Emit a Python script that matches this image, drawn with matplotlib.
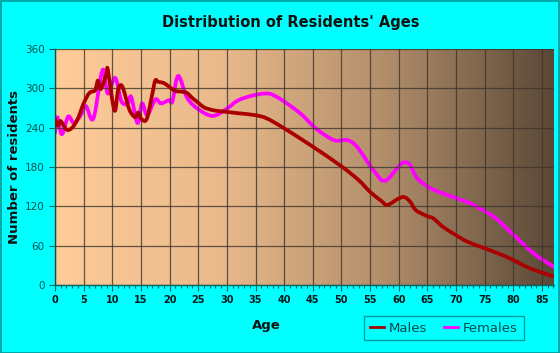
import numpy as np
import matplotlib.pyplot as plt
from matplotlib.colors import LinearSegmentedColormap
from matplotlib.patches import Rectangle, PathPatch
from matplotlib.path import Path

plt.rcParams['font.family'] = ['DejaVu Sans']

# values
male_age = [0, 0.5, 1, 2, 3, 4, 5, 6, 7, 7.5, 8, 9, 9.2, 10, 10.5, 11, 11.5, 12, 13, 14, 14.5, 15, 16,
            17, 17.5, 18, 19, 20, 21, 22, 23, 24, 25, 26, 27, 28, 30, 32, 35, 37, 40, 45, 50, 53,
            55, 57, 58, 60, 61, 62, 63, 65, 66, 67, 68, 70, 72, 75, 78, 80, 83, 85, 87]
male_val = [254, 243, 250, 237, 240, 254, 277, 293, 297, 312, 299, 323, 329, 282, 266, 297, 305, 297, 267,
            256, 263, 254, 253, 292, 312, 310, 308, 302, 296, 295, 293, 285, 278, 271, 268, 266, 264, 262,
            259, 254, 239, 211, 181, 160, 142, 128, 122, 132, 134, 127, 114, 105, 102, 94, 87, 76, 66,
            56, 46, 38, 25, 19, 13]

female_age = [0, 0.4, 1.2, 2.3, 3.3, 4.5, 5.4, 6.7, 8.3, 9.2, 10.5, 11.6, 12.7, 13.3, 14.4, 15.2, 16.1,
              17.5, 18.5, 19.9, 20.5, 21.5, 23.1, 25.2, 27.6, 30, 32.3, 36.4, 38.7, 42.8, 45.5, 48.7,
              51, 52.7, 55.6, 57.6, 60.3, 61.2, 62, 63.2, 65.3, 67.3, 70.2, 72.6, 76.6, 80.1, 83.6, 87]
female_val = [232, 256, 230, 257, 247, 259, 273, 254, 328, 292, 316, 280, 277, 287, 247, 277, 259,
              283, 277, 282, 280, 319, 285, 267, 258, 269, 283, 292, 287, 262, 239, 221,
              221, 211, 175, 159, 184, 187, 183, 163, 149, 141, 132, 124, 104, 76, 48, 28]

x_ticks = list(range(0, 90, 5))
y_ticks = [0, 60, 120, 180, 240, 300, 360]


def smooth_path(xs, ys):
    # Catmull-Rom style cubic bezier through the points (matplotlib draws the curve)
    p = np.column_stack([xs, ys]).astype(float)
    verts = [p[0]]
    codes = [Path.MOVETO]
    n = len(p)
    for i in range(n - 1):
        p0 = p[i - 1] if i > 0 else p[i]
        p3 = p[i + 2] if i + 2 < n else p[i + 1]
        c1 = p[i] + (p[i + 1] - p0) / 6.0
        c2 = p[i + 1] - (p3 - p[i]) / 6.0
        verts += [c1, c2, p[i + 1]]
        codes += [Path.CURVE4] * 3
    return Path(verts, codes)


W, H = 560, 353
fig = plt.figure(figsize=(W / 100, H / 100), dpi=100)
fig.patch.set_facecolor('#00FFFF')
fig.patches.append(Rectangle((0.5 / W, 0.5 / H), 1 - 1.5 / W, 1 - 1.5 / H, transform=fig.transFigure,
                             fill=False, edgecolor='#009999', linewidth=1.2))

ax = fig.add_axes([55 / W, 1 - 285 / H, (554 - 55) / W, (285 - 49) / H])
xmin, xmax = 0, 87.1

# background gradient
cmap = LinearSegmentedColormap.from_list('bg', ['#FFCC99', '#E9B98B', '#B08D6A', '#5A4836'])
grad = np.linspace(0, 1, 256).reshape(1, -1)
ax.imshow(grad, cmap=cmap, aspect='auto', extent=[xmin, xmax, 0, 360], zorder=0)

for xs, ys, col, z in [(female_age, female_val, '#FF00FF', 2), (male_age, male_val, '#AA0000', 3)]:
    ax.add_patch(PathPatch(smooth_path(xs, ys), fill=False, edgecolor=col, lw=2.7, zorder=z,
                           joinstyle='round', capstyle='round'))

ax.plot([], [], color='#AA0000', lw=2, label='Males')
ax.plot([], [], color='#FF00FF', lw=2, label='Females')

ax.set_xlim(xmin, xmax)
ax.set_ylim(0, 360)
ax.set_xticks(x_ticks)
ax.set_xticks(range(0, 88), minor=True)
ax.set_yticks(y_ticks)
ax.grid(True, which='major', color='#3e352c', lw=0.9, alpha=0.8, zorder=1)
ax.set_axisbelow(False)

for s in ['top', 'right']:
    ax.spines[s].set_visible(False)
for s in ['left', 'bottom']:
    ax.spines[s].set_color('#006666')
    ax.spines[s].set_linewidth(1.0)
ax.tick_params(axis='both', which='major', length=4, color='#006666', labelsize=7, width=0.8)
ax.tick_params(axis='x', labelcolor='#001818')
ax.tick_params(axis='y', labelcolor='#005050', labelsize=7.5)
ax.tick_params(axis='x', which='minor', length=2.5, color='#006666', width=0.8)
for lbl in ax.get_xticklabels():
    lbl.set_fontweight('bold')

fig.text(291 / W, 1 - 22 / H, "Distribution of Residents' Ages", ha='center', va='center',
         fontsize=10.5, fontweight='bold', color='#111111')
fig.text(15 / W, 1 - 167 / H, 'Number of residents', rotation=90, ha='center', va='center',
         fontsize=9.5, fontweight='bold', color='#111111')
fig.text(266 / W, 1 - 326 / H, 'Age', ha='center', va='center',
         fontsize=9.5, fontweight='bold', color='#111111')

leg = fig.legend(loc='center', bbox_to_anchor=(444 / W, 1 - 328 / H), ncol=2, frameon=True,
                 fancybox=False, edgecolor='#008080', facecolor='#00FFFF', fontsize=9.5,
                 handlelength=1.0, handletextpad=0.4, columnspacing=1.3, borderpad=0.45)
leg.get_frame().set_linewidth(1.0)
for t in leg.get_texts():
    t.set_color('#004848')

fig.savefig('out.png', dpi=100, facecolor=fig.get_facecolor())
